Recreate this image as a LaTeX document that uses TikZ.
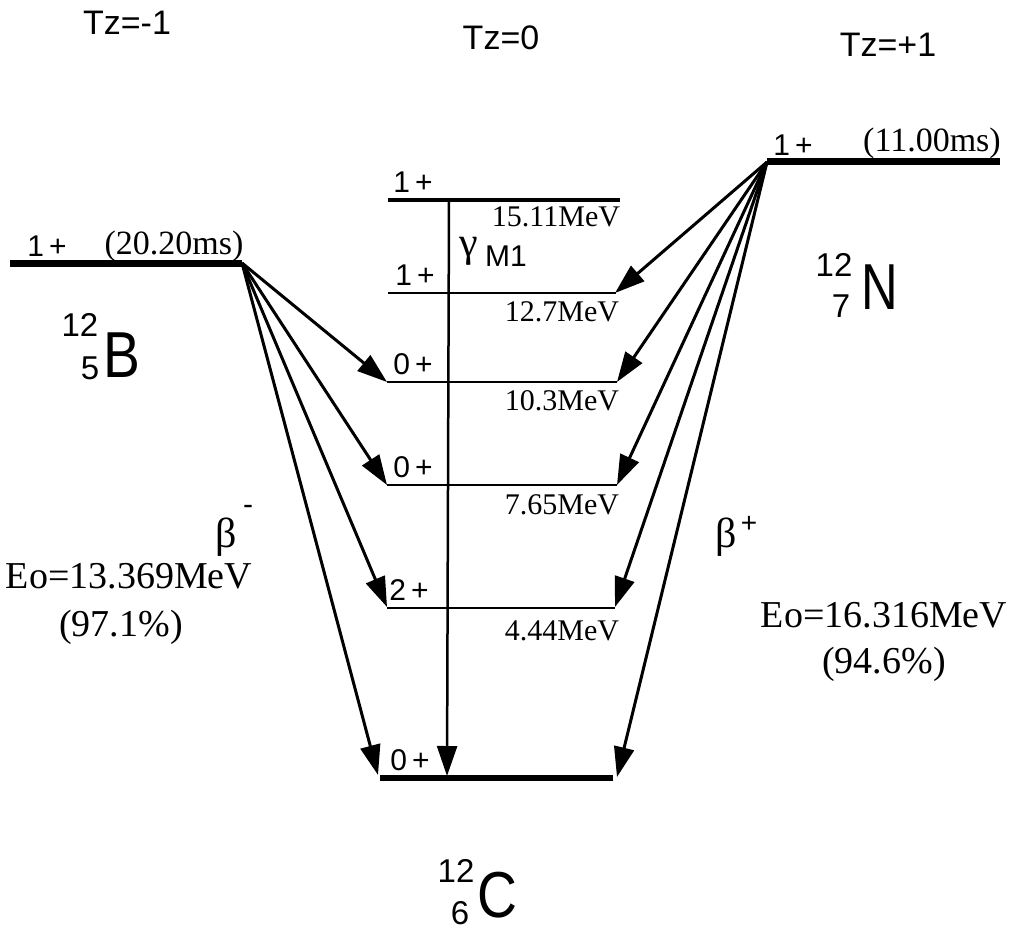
\documentclass[tikz,border=0pt]{standalone}
\usepackage{fontspec}
\setmainfont{Liberation Serif}
\setsansfont{Liberation Sans}
\usetikzlibrary{arrows.meta}
\begin{document}
\begin{tikzpicture}[x=1pt,y=-1pt,
  sflab/.style={font=\sffamily\fontsize{30}{30}\selectfont, inner sep=0pt},
  rmlab/.style={font=\fontsize{30}{30}\selectfont, inner sep=0pt},
  mslab/.style={font=\fontsize{34}{34}\selectfont, inner sep=0pt},
  tzlab/.style={font=\sffamily\fontsize{34}{34}\selectfont, inner sep=0pt},
  eolab/.style={font=\fontsize{38}{38}\selectfont, inner sep=0pt},
  greek/.style={font=\fontsize{42}{42}\selectfont, inner sep=0pt},
  nucbig/.style={font=\sffamily\fontsize{65}{65}\selectfont, inner sep=0pt},
  nucsmall/.style={font=\sffamily\fontsize{33}{33}\selectfont, inner sep=0pt},
  parent/.style={line width=7pt},
  level/.style={line width=2pt},
  decay/.style={line width=3pt, -{Triangle[length=30pt,width=20pt]}},
]
\useasboundingbox (0,0) rectangle (1011,933);

% Tz labels
\node[tzlab] (tzm) at (127,23) {Tz=-1};
\node[tzlab] (tz0) at (501,38) {Tz=0};
\node[tzlab] (tzp) at (888,45) {Tz=+1};

% parent levels
\coordinate (Bl) at (10,263);
\coordinate (Br) at (242,263);
\draw[parent] (Bl) -- (Br);
\coordinate (Nl) at (767,162);
\coordinate (Nr) at (1000,162);
\draw[parent] (Nl) -- (Nr);
\node[sflab] (Bj) at (47,246) {1\,+};
\node[mslab] (Bt) at (174,246) {(20.20ms)};
\node[sflab] (Nj) at (793,145) {1\,+};
\node[mslab] (Nt) at (932,143) {(11.00ms)};

% 12C levels
\coordinate (L15l) at (388,200); \coordinate (L15r) at (620,200);
\coordinate (L12l) at (388,293); \coordinate (L12r) at (616,293);
\coordinate (L10l) at (387,382); \coordinate (L10r) at (617,382);
\coordinate (L7l) at (387,485);  \coordinate (L7r) at (617,485);
\coordinate (L4l) at (387,608);  \coordinate (L4r) at (615,608);
\coordinate (L0l) at (380,778);  \coordinate (L0r) at (613,778);
\draw[line width=4pt] (L15l) -- (L15r);
\draw[level] (L12l) -- (L12r);
\draw[level] (L10l) -- (L10r);
\draw[level] (L7l) -- (L7r);
\draw[level] (L4l) -- (L4r);
\draw[line width=6pt] (L0l) -- (L0r);

\node[sflab] (j15) at (413,182) {1\,+};
\node[sflab] (j12) at (415,275) {1\,+};
\node[sflab] (j10) at (413,364) {0\,+};
\node[sflab] (j7) at (413,467) {0\,+};
\node[sflab] (j4) at (409,590) {2\,+};
\node[sflab] (j0) at (410,760) {0\,+};

\node[rmlab] (e15) at (556,217) {15.11MeV};
\node[rmlab] (e12) at (562,312) {12.7MeV};
\node[rmlab] (e10) at (562,401) {10.3MeV};
\node[rmlab] (e7) at (562,505) {7.65MeV};
\node[rmlab] (e4) at (562,631) {4.44MeV};

% gamma M1
\coordinate (gtop) at (449,200);
\coordinate (gbot) at (447,776);
\draw[line width=2.5pt, -{Triangle[length=30pt,width=20pt]}] (gtop) -- (gbot);
\node[greek, anchor=base west] (gam) at (459,256) {γ};
\node[inner sep=0pt, anchor=base west, font=\sffamily\fontsize{30}{30}\selectfont] (gM1) at (485,266) {M1};

% beta- decays
\coordinate (t10l) at (387,382);
\coordinate (t7l) at (387,485);
\coordinate (t4l) at (387,607);
\coordinate (t0l) at (378,775);
\draw[decay] (Br) -- (t10l);
\draw[decay] (Br) -- (t7l);
\draw[decay] (Br) -- (t4l);
\draw[decay] (Br) -- (t0l);

% beta+ decays
\coordinate (t12r) at (615,293);
\coordinate (t10r) at (617,382);
\coordinate (t7r) at (617,485);
\coordinate (t4r) at (615,607);
\coordinate (t0r) at (617,777);
\draw[decay] (Nl) -- (t12r);
\draw[decay] (Nl) -- (t10r);
\draw[decay] (Nl) -- (t7r);
\draw[decay] (Nl) -- (t4r);
\draw[decay] (Nl) -- (t0r);

% beta labels
\node[greek] (bm) at (226,537) {β};
\node[inner sep=0pt, font=\sffamily\fontsize{30}{30}\selectfont] (bmm) at (248,510) {-};
\node[greek] (bp) at (726,537) {β};
\node[inner sep=0pt, font=\sffamily\fontsize{28}{28}\selectfont] (bpp) at (749,524) {+};

\node[eolab] (eom) at (129,576) {Eo=13.369MeV};
\node[eolab] (pm) at (121,627) {(97.1\%)};
\node[eolab] (eop) at (884,615) {Eo=16.316MeV};
\node[eolab] (pp) at (884,664) {(94.6\%)};

% nuclide labels
\node[nucsmall] (Bs) at (80,325) {12};
\node[nucsmall] (Bz) at (90,368) {5};
\node[nucbig] (B) at (122,355) {\scalebox{0.85}[1]{B}};
\node[nucsmall] (Ns) at (834,265) {12};
\node[nucsmall] (Nz) at (841,306) {7};
\node[nucbig] (N) at (880,287) {\scalebox{0.78}[1]{N}};
\node[nucsmall] (Cs) at (456,871) {12};
\node[nucsmall] (Cz) at (460,913) {6};
\node[nucbig] (C) at (497,895) {\scalebox{0.85}[1]{C}};
\end{tikzpicture}
\end{document}
